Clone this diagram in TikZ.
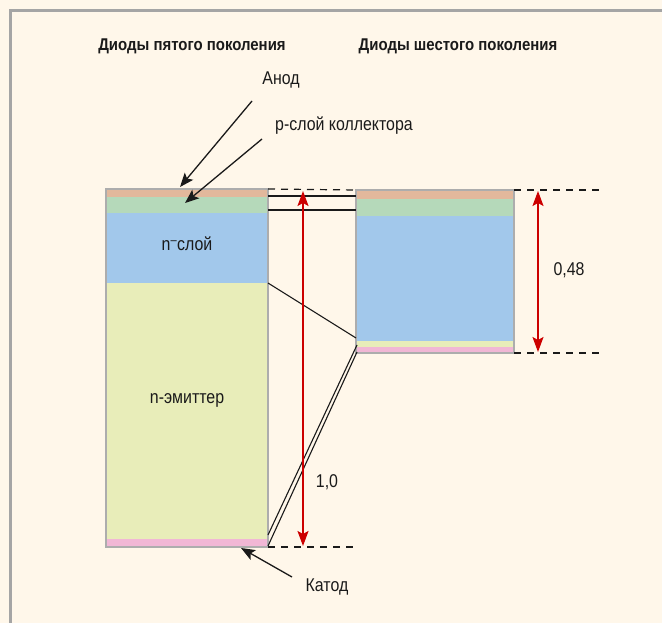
\documentclass[tikz,border=0pt]{standalone}
\usepackage{fontspec}
\setmainfont{Liberation Sans}[FakeStretch=0.86]
\newfontfamily\titlefont{Liberation Sans}[FakeStretch=0.88]
\usetikzlibrary{arrows.meta}
\definecolor{bg}{HTML}{FFF7EA}
\definecolor{framec}{HTML}{A5A5A5}
\definecolor{cOr}{HTML}{E2B89C}
\definecolor{cGr}{HTML}{B5D9BA}
\definecolor{cBl}{HTML}{A2C8EB}
\definecolor{cYe}{HTML}{E8EDB9}
\definecolor{cPi}{HTML}{F1B7D5}
\definecolor{cRed}{HTML}{CC0000}
\definecolor{barline}{HTML}{ADADAD}
\definecolor{ink}{HTML}{1A1A1A}
\tikzset{
  layer/.style={draw=none, inner sep=0pt, outer sep=0pt, anchor=north west},
  lbl/.style={inner sep=0pt, anchor=base, text=ink, font=\fontsize{18.5}{21}\selectfont},
  ttl/.style={inner sep=0pt, anchor=base, text=ink, font=\titlefont\bfseries\fontsize{17}{20}\selectfont},
  dashline/.style={ink, line width=1.2pt, dash pattern=on 7pt off 6pt},
  thinline/.style={ink, line width=1.1pt},
  redarr/.style={cRed, line width=1.5pt, {Stealth[length=15pt,width=11pt,inset=3pt]}-{Stealth[length=15pt,width=11pt,inset=3pt]}},
  blkarr/.style={ink, line width=1.3pt, -{Stealth[length=14pt,width=11pt,inset=3pt]}},
}
\begin{document}
\begin{tikzpicture}[x=1pt,y=-1pt]
\useasboundingbox (0,0) rectangle (662,623);
\fill[bg] (0,0) rectangle (662,623);
\draw[framec, line width=2.5pt] (10.5,623) -- (10.5,10.5) -- (662,10.5);

% left bar (5th generation)
\node[layer, fill=cOr, minimum width=162pt, minimum height=8pt]   (L1) at (106,189) {};
\node[layer, fill=cGr, minimum width=162pt, minimum height=16pt]  (L2) at (106,197) {};
\node[layer, fill=cBl, minimum width=162pt, minimum height=70pt]  (L3) at (106,213) {};
\node[layer, fill=cYe, minimum width=162pt, minimum height=256pt] (L4) at (106,283) {};
\node[layer, fill=cPi, minimum width=162pt, minimum height=8pt]   (L5) at (106,539) {};
\draw[barline, line width=1.5pt] (L1.north west) rectangle (L5.south east);

% right bar (6th generation)
\node[layer, fill=cOr, minimum width=158pt, minimum height=9pt]   (R1) at (356,190) {};
\node[layer, fill=cGr, minimum width=158pt, minimum height=17pt]  (R2) at (356,199) {};
\node[layer, fill=cBl, minimum width=158pt, minimum height=125pt] (R3) at (356,216) {};
\node[layer, fill=cYe, minimum width=158pt, minimum height=6pt]   (R4) at (356,341) {};
\node[layer, fill=cPi, minimum width=158pt, minimum height=6pt]   (R5) at (356,347) {};
\draw[barline, line width=1.5pt] (R1.north west) rectangle (R5.south east);

% dashed extension lines
\draw[dashline] (L1.north east) -- (R1.north west);
\draw[dashline] (R1.north east) -- ++(88,0) coordinate (rtopend);
\draw[dashline] (L5.south east) -- ++(88,0) coordinate (lbotend);
\draw[dashline] (R5.south east) -- ++(88,0) coordinate (rbotend);

% connecting lines
\coordinate (a1) at (268,196); \coordinate (b1) at (356,196);
\coordinate (a2) at (268,210); \coordinate (b2) at (356,210);
\coordinate (a3) at (268,283); \coordinate (b3) at (356,338);
\coordinate (a4) at (268,535); \coordinate (b4) at (357,345);
\coordinate (a5) at (268,546); \coordinate (b5) at (357,352);
\draw[thinline] (a1) -- (b1);
\draw[thinline] (a2) -- (b2);
\draw[thinline] (a3) -- (b3);
\draw[thinline] (a4) -- (b4);
\draw[thinline] (a5) -- (b5);

% red dimension arrows
\coordinate (d1t) at (303,191); \coordinate (d1b) at (303,546);
\coordinate (d2t) at (538,191); \coordinate (d2b) at (538,352);
\draw[redarr] (d1t) -- (d1b);
\draw[redarr] (d2t) -- (d2b);
\node[lbl] (v1) at (327,487) {1,0};
\node[lbl] (v2) at (569,276) {0,48};

% titles
\node[ttl] (t1) at (192,51) {Диоды пятого поколения};
\node[ttl] (t2) at (458,51) {Диоды шестого поколения};

% labels inside bars
\node[lbl] (nl) at (187,251) {n\textsuperscript{–}слой};
\node[lbl] (ne) at (187,403) {n-эмиттер};

% pointer labels
\node[lbl] (anod) at (281,85) {Анод};
\node[lbl] (pcol) at (344,131) {р-слой коллектора};
\node[lbl] (kat) at (327,591) {Катод};
\coordinate (an0) at (252,101); \coordinate (an1) at (180,187);
\coordinate (pc0) at (262,139); \coordinate (pc1) at (185,203);
\coordinate (ka0) at (292,577); \coordinate (ka1) at (241,548);
\draw[blkarr] (an0) -- (an1);
\draw[blkarr] (pc0) -- (pc1);
\draw[blkarr] (ka0) -- (ka1);
\end{tikzpicture}
\end{document}
